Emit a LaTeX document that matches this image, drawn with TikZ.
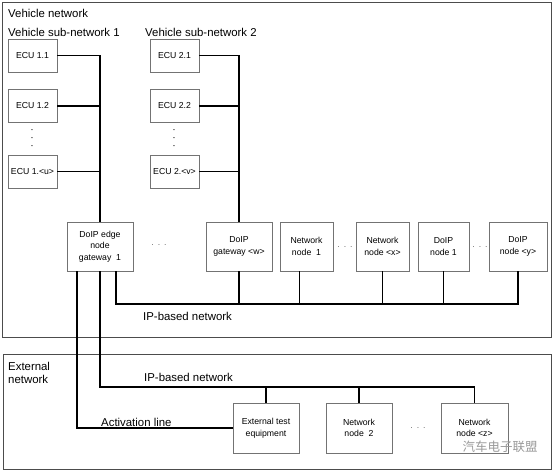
\documentclass[tikz,border=0pt]{standalone}
\usepackage{fontspec}
\setmainfont{Liberation Sans}
\newfontfamily\cjk{Noto Sans CJK SC}
\usetikzlibrary{positioning}

\begin{document}
\begin{tikzpicture}[x=1pt,y=-1pt]
%% box and line styles
\tikzstyle{frame}=[draw=black!70,line width=0.8pt]
\tikzstyle{ecu}=[rectangle,draw=black!55,minimum width=49pt,minimum height=33pt,inner sep=0pt,font=\fontsize{8.7}{11.5}\selectfont]
\tikzstyle{nbox}=[rectangle,draw=black!55,minimum height=49pt,inner sep=0pt,align=center,font=\fontsize{8.7}{11.5}\selectfont]
\tikzstyle{lbl}=[anchor=west,inner sep=0pt,font=\fontsize{11.4}{13}\selectfont]
\tikzstyle{gap}=[inner sep=0pt,text=black!60,font=\fontsize{8.7}{8}\selectfont,align=center]
\tikzstyle{vgap}=[inner sep=0pt,rotate=90,font=\fontsize{10}{10}\selectfont]
\tikzstyle{bus}=[draw=black,line width=1.3pt]
\useasboundingbox (0,0) rectangle (554,472);
%%%%%%%%%%%%%%%%%%%%%%%%%%%%%%%%%%%%%%%%%%%%%%%%%%%%%%%%%%%%%%%%%%%%%%%%
%VEHICLE
\draw[frame] (2,2) rectangle (551,337);
\node[lbl] (vnet) at (8,13) {Vehicle network};
\node[lbl] (vsub1) at (8,32) {Vehicle sub-network 1};
\node[lbl] (vsub2) at (145,32) {Vehicle sub-network 2};
%1
\node[ecu] (ecu11) at (32.5,55.5) {ECU 1.1};
\node[ecu] (ecu12) at (32.5,106) {ECU 1.2};
\node[vgap] (ecudots1) at (32,138) {.\hspace{5pt}.\hspace{5pt}.};
\node[ecu] (ecu1u) at (32.5,171.5) {ECU 1.<u>};
%2
\node[ecu] (ecu21) at (174.5,55.5) {ECU 2.1};
\node[ecu] (ecu22) at (174.5,106) {ECU 2.2};
\node[vgap] (ecudots2) at (174,138) {.\hspace{5pt}.\hspace{5pt}.};
\node[ecu] (ecu2v) at (174.5,171.5) {ECU 2.<v>};
%gateways and nodes
\node[nbox,minimum width=66pt] (gw1) at (100,246.5) {DoIP edge\\node\\gateway~~1};
\node[gap] (gwdots) at (159,245) {.\hspace{4pt}.\hspace{4pt}.};
\node[nbox,minimum width=66pt] (gww) at (239,246.5) {DoIP\\gateway <w>};
\node[nbox,minimum width=53pt] (nn1) at (306.5,246.5) {Network\\node~~1};
\node[gap] (nndots) at (345,247) {.\hspace{4pt}.\hspace{4pt}.};
\node[nbox,minimum width=53pt] (nnx) at (382.5,246.5) {Network\\node <x>};
\node[nbox,minimum width=51pt] (dn1) at (443.5,246.5) {DoIP\\node 1};
\node[gap] (dndots) at (480,247) {.\hspace{4pt}.\hspace{4pt}.};
\node[nbox,minimum width=58pt] (dny) at (518,246.5) {DoIP\\node <y>};
\coordinate (vbus) at (116,304);
\node[lbl] (vip) at (143,316) {IP-based network};

%%%%%%%%%%%%%%%%%%%%%%%%%%%%%%%%%%%%%%%%%%%%%%%%%%%%%%%%%%%%%%%%%%%%%%%%
%EXTERNAL
\draw[frame] (3,354) rectangle (551,469);
\node[lbl,align=left,font=\fontsize{11.4}{13}\selectfont] (enet) at (8,373) {External\\network};
\node[lbl] (eip) at (144,377) {IP-based network};
\node[lbl] (actlbl) at (101,422) {Activation line};
\node[nbox,minimum width=66pt,minimum height=50pt] (tester) at (266,428) {External test\\equipment};
\node[nbox,minimum width=66pt,minimum height=50pt] (nn2) at (359,428) {Network\\node~~2};
\node[gap] (edots) at (418,428) {.\hspace{4pt}.\hspace{4pt}.};
\node[nbox,minimum width=67pt,minimum height=50pt] (nnz) at (474.5,428) {Network\\node <z>};
\coordinate (ebus) at (100,387);
\coordinate (act) at (77,428);
\node[text=black!40,inner sep=0pt,font=\cjk\fontsize{12.5}{13}\selectfont] (mark) at (500,447) {汽车电子联盟};

%%%%%%%%%%%%%%%%%%%%%%%%%%%%%%%%%%%%%%%%%%%%%%%%%%%%%%%%%%%%%%
%LINES
% ecu -> gateway
\draw[bus] (ecu11.east) -| (gw1.north);
\draw[bus] (ecu12.east) -- (ecu12.east -| gw1.north);
\draw[bus] (ecu1u.east) -- (ecu1u.east -| gw1.north);
\draw[bus] (ecu21.east) -| (gww.north);
\draw[bus] (ecu22.east) -- (ecu22.east -| gww.north);
\draw[bus] (ecu2v.east) -- (ecu2v.east -| gww.north);
% vehicle ip network
\draw[bus] (vbus |- gw1.south) -- (vbus) -| (dny.south);
\draw[bus] (gww.south) -- (gww.south |- vbus);
\draw[bus] ([xshift=-7pt]nn1.south) -- ([xshift=-7pt]nn1.south |- vbus);
\draw[bus] (nnx.south) -- (nnx.south |- vbus);
\draw[bus] (dn1.south) -- (dn1.south |- vbus);
% external ip network
\draw[bus] (gw1.south) -- (ebus) -| (nnz.north);
\draw[bus] (tester.north) -- (tester.north |- ebus);
\draw[bus] (nn2.north) -- (nn2.north |- ebus);
% activation line
\draw[bus] (act |- gw1.south) -- (act) -- (tester.west);
\end{tikzpicture}
\end{document}
